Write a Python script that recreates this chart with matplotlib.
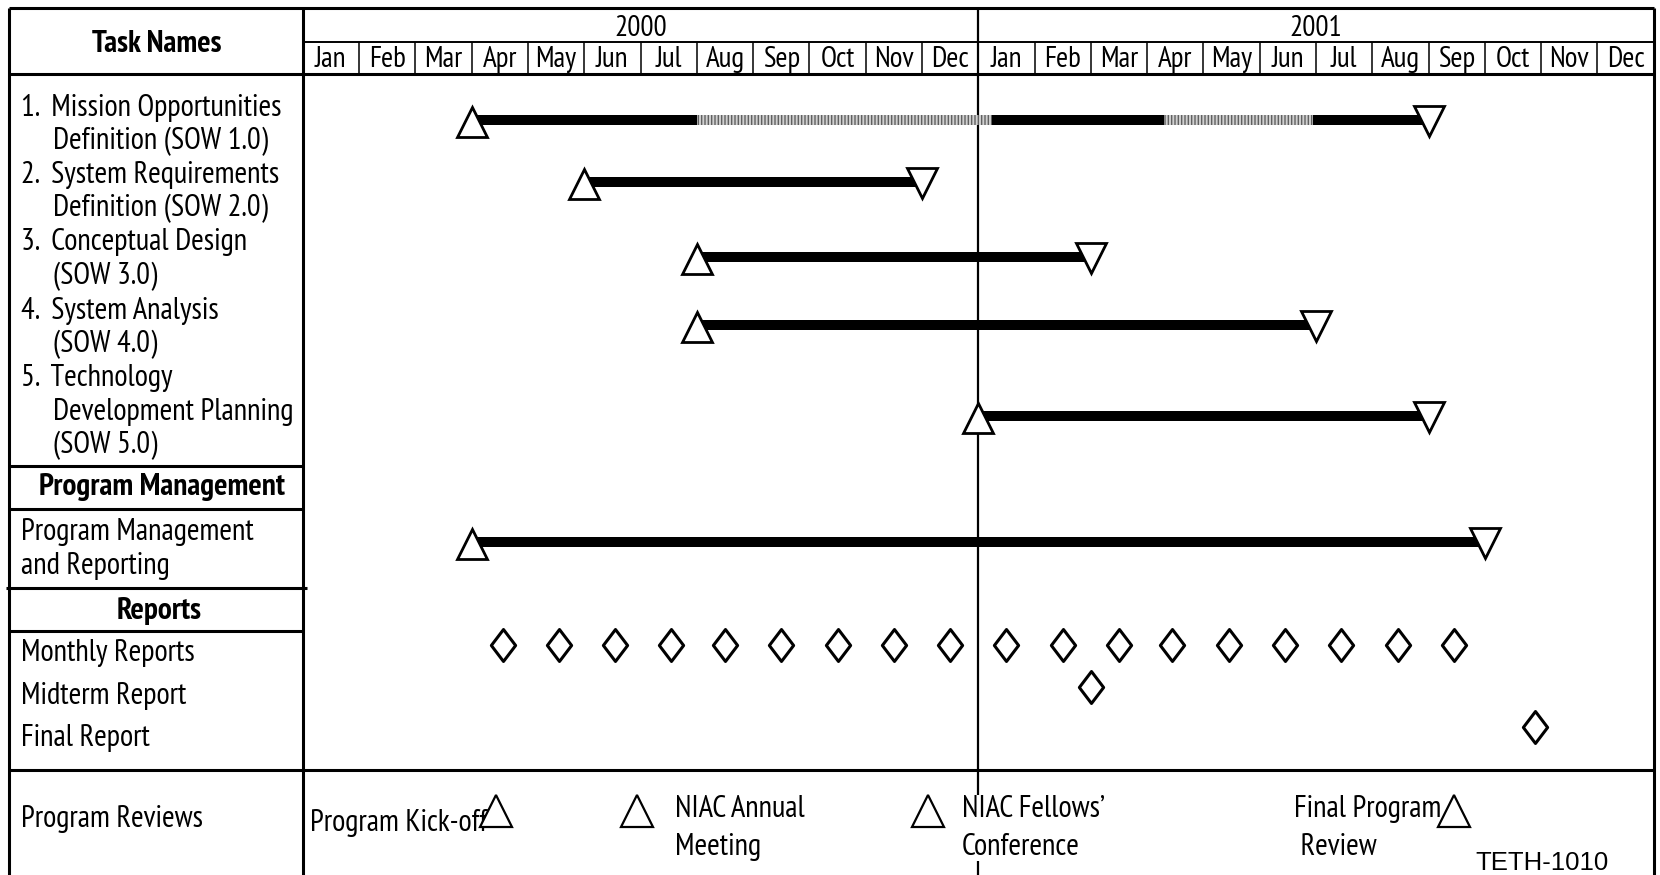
import matplotlib
matplotlib.use('Agg')
import matplotlib.pyplot as plt
from matplotlib import font_manager as fm
from matplotlib.path import Path

# pick a narrow sans face for the table text
installed = {f.name for f in fm.fontManager.ttflist}
narrow = 'DejaVu Sans'
for fam in ['Liberation Sans Narrow', 'Arial Narrow', 'PT Sans Narrow',
            'Archivo Narrow', 'Roboto Condensed']:
    if fam in installed:
        narrow = fam
        break
plt.rcParams['font.family'] = [narrow, 'DejaVu Sans']
plt.rcParams['hatch.linewidth'] = 1.0

# ---- schedule data (months counted from Jan 2000) ----
years = ['2000', '2001']
months = ['Jan', 'Feb', 'Mar', 'Apr', 'May', 'Jun',
          'Jul', 'Aug', 'Sep', 'Oct', 'Nov', 'Dec'] * 2

task_labels = [
    ['1.  Mission Opportunities', 'Definition (SOW 1.0)'],
    ['2.  System Requirements', 'Definition (SOW 2.0)'],
    ['3.  Conceptual Design', '(SOW 3.0)'],
    ['4.  System Analysis', '(SOW 4.0)'],
    ['5.  Technology', 'Development Planning', '(SOW 5.0)'],
]
task_start = [3, 5, 7, 7, 12]
task_end = [20, 11, 14, 18, 20]

# slack periods on the first task
slack_start = [7.0, 15.3]
slack_end = [12.25, 17.95]

pm_start, pm_end = 3, 21

monthly_reports = [3.55, 4.55, 5.55, 6.55, 7.5, 8.5, 9.5, 10.5, 11.5,
                   12.5, 13.5, 14.5, 15.45, 16.45, 17.45, 18.45, 19.45, 20.45]
midterm_report = 14.0
final_report = 21.9

review_names = ['Program Kick-off', 'NIAC Annual\nMeeting',
                'NIAC Fellows\u2019\nConference', 'Final Program\n Review']
review_dates = [3.44, 5.94, 11.11, 20.46]

# ---- layout (pixels, y measured from the top) ----
W, H = 1660, 875
x_left, x_div, x_right = 8.5, 302.8, 1653.7
y_top, y_year, y_head = 7.5, 42.3, 74.0
task_rows = [119.5, 182, 257, 325, 416]
pm_row = 542
monthly_row, midterm_row, final_row = 645, 687, 727
review_row = 811
bar_h = 10
fs = 22
fs_bold = 22.5

fig = plt.figure(figsize=(W / 100, H / 100), dpi=100)

# table frame in pixel coordinates
ax = fig.add_axes([0, 0, 1, 1])
ax.set_xlim(0, W)
ax.set_ylim(H, 0)
ax.axis('off')

# timeline in months
tx = fig.add_axes([x_div / W, 0, (x_right - x_div) / W, 1])
tx.set_xlim(0, 24)
tx.set_ylim(H, 0)
tx.axis('off')
tx.patch.set_alpha(0)

heavy = 2.2
k = dict(color='black', solid_capstyle='butt')
ax.plot([x_left, x_right], [y_top, y_top], lw=heavy, **k)
ax.plot([x_left, x_left], [y_top, H], lw=heavy, **k)
ax.plot([x_right, x_right], [y_top, H], lw=heavy, **k)
ax.plot([x_div, x_div], [y_top, H], lw=heavy, **k)
ax.plot([x_left, x_right], [y_head, y_head], lw=heavy, **k)
ax.plot([x_div, x_right], [y_year, y_year], lw=1.4, **k)
ax.plot([x_left, x_right], [769.7, 769.7], lw=heavy, **k)
for yy in [466, 509, 631]:
    ax.plot([x_left, x_div], [yy, yy], lw=heavy, **k)
ax.plot([5.5, 307], [587.6, 587.6], lw=heavy, **k)

# month header
for i, m in enumerate(months):
    tx.text(i + 0.5, 59.5, m, ha='center', va='center', fontsize=21)
    if i > 0 and i != 12:
        tx.plot([i, i], [y_year, y_head], lw=1.1, **k)
for j, yr in enumerate(years):
    tx.text(6 + 12 * j, 28, yr, ha='center', va='center', fontsize=21)
tx.plot([12, 12], [y_top, H], lw=1.6, zorder=1, **k)

ax.text(157, 44, 'Task Names', ha='center', va='center',
        fontsize=fs_bold, fontweight='bold')

# task labels
line_ys = [[108, 141], [174.7, 208.6], [242.4, 276.3], [311.3, 344],
           [378, 411.8, 445.7]]
for lines, ys in zip(task_labels, line_ys):
    for n, (txt, yy) in enumerate(zip(lines, ys)):
        ax.text(21 if n == 0 else 53, yy, txt, ha='left', va='center',
                fontsize=fs)

ax.text(162, 487, 'Program Management', ha='center', va='center',
        fontsize=fs_bold, fontweight='bold')
ax.text(21, 532.5, 'Program Management', ha='left', va='center', fontsize=fs)
ax.text(21, 566.4, 'and Reporting', ha='left', va='center', fontsize=fs)
ax.text(159, 611, 'Reports', ha='center', va='center',
        fontsize=fs_bold, fontweight='bold')
ax.text(21, 653, 'Monthly Reports', ha='left', va='center', fontsize=fs)
ax.text(21, 695.6, 'Midterm Report', ha='left', va='center', fontsize=fs)
ax.text(21, 738, 'Final Report', ha='left', va='center', fontsize=fs)
ax.text(21, 819, 'Program Reviews', ha='left', va='center', fontsize=fs)

# task bars with start / finish triangles
tri = dict(ms=21, mfc='white', mec='black', mew=2.0, ls='none', zorder=5)
for s, e, yy in zip(task_start, task_end, task_rows):
    tx.barh(yy, e - s, left=s, height=bar_h, color='black', zorder=3)
    tx.plot(s, yy + 2, marker='^', **tri)
    tx.plot(e, yy + 1, marker='v', **tri)
for s, e in zip(slack_start, slack_end):
    tx.barh(task_rows[0], e - s, left=s, height=bar_h, facecolor='#d0d0d0',
            edgecolor='#606060', hatch='|||||', linewidth=0, zorder=4)

tx.barh(pm_row, pm_end - pm_start, left=pm_start, height=bar_h,
        color='black', zorder=3)
tx.plot(pm_start, pm_row + 2, marker='^', **tri)
tx.plot(pm_end, pm_row + 1, marker='v', **tri)

# report milestones
diamond = Path([(0, 0.5), (0.38, 0), (0, -0.5), (-0.38, 0), (0, 0.5)],
               [Path.MOVETO, Path.LINETO, Path.LINETO, Path.LINETO,
                Path.CLOSEPOLY])
dia = dict(marker=diamond, ms=23, mfc='white', mec='black', mew=2.2,
           ls='none', zorder=5)
tx.plot(monthly_reports, [monthly_row] * len(monthly_reports), **dia)
tx.plot(midterm_report, midterm_row, **dia)
tx.plot(final_report, final_row, **dia)

# program reviews; labels live on the timeline axes so the white box
# around the conference label can sit over the year divider
tx.plot(review_dates, [review_row] * len(review_dates), marker='^', ms=23,
        mfc='white', mec='black', mew=1.6, ls='none', zorder=5)
review_text_x = [310, 675, 962, 1294]
review_text_y = [823, 828, 828, 828]
for name, xx, yy in zip(review_names, review_text_x, review_text_y):
    bb = dict(facecolor='white', edgecolor='none', pad=0) if 'Fellows' in name else None
    tx.text(xx, yy, name, ha='left', va='center', fontsize=fs,
            linespacing=1.42, bbox=bb, zorder=4, transform=ax.transData)

ax.text(1475, 863, 'TETH-1010', ha='left', va='center', fontsize=18.5,
        family=['Liberation Sans', 'DejaVu Sans'])

fig.savefig('out.png', dpi=100)
